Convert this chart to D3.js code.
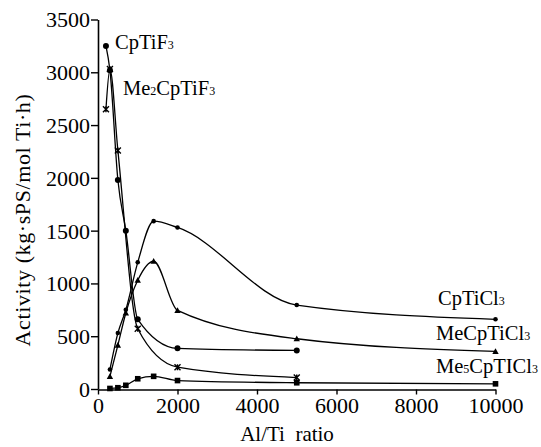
<!DOCTYPE html>
<html><head><meta charset="utf-8">
<script src="https://cdn.jsdelivr.net/npm/d3@7/dist/d3.min.js"></script>
<style>
html,body{margin:0;padding:0;background:#fff;}
svg{display:block;}
text{font-family:"Liberation Serif","Times New Roman",serif;fill:#000;}
</style></head>
<body><svg id="c" width="541" height="447"></svg>
<script>
// ---- data ----
const xTicks = [0, 2000, 4000, 6000, 8000, 10000];
const yTicks = [0, 500, 1000, 1500, 2000, 2500, 3000, 3500];

const xCpTiF3 = [200, 300, 500, 700, 1000, 2000, 5000];
const yCpTiF3 = [3250, 3020, 1980, 1500, 660, 385, 365];

const xMe2CpTiF3 = [200, 300, 500, 1000, 2000, 5000];
const yMe2CpTiF3 = [2650, 3030, 2260, 570, 207, 108];

const xCpTiCl3 = [300, 500, 700, 1000, 1400, 2000, 5000, 10000];
const yCpTiCl3 = [185, 530, 750, 1200, 1590, 1530, 795, 660];

const xMeCpTiCl3 = [300, 500, 700, 1000, 1400, 2000, 5000, 10000];
const yMeCpTiCl3 = [120, 415, 720, 1030, 1210, 745, 476, 356];

const xMe5CpTiCl3 = [300, 500, 700, 1000, 1400, 2000, 5000, 10000];
const yMe5CpTiCl3 = [5, 12, 35, 97, 120, 80, 59, 49];

const series = [
  {name: "CpTiF3", xs: xCpTiF3, ys: yCpTiF3, marker: "circle", r: 3},
  {name: "Me2CpTiF3", xs: xMe2CpTiF3, ys: yMe2CpTiF3, marker: "star", r: 3},
  {name: "CpTiCl3", xs: xCpTiCl3, ys: yCpTiCl3, marker: "circle", r: 2.3},
  {name: "MeCpTiCl3", xs: xMeCpTiCl3, ys: yMeCpTiCl3, marker: "triangle", r: 3.2},
  {name: "Me5CpTICl3", xs: xMe5CpTiCl3, ys: yMe5CpTiCl3, marker: "square", r: 2.8}
];

const labels = [
  {parts: [["CpTiF", 0], ["3", 1]], x: 115, y: 49},
  {parts: [["Me", 0], ["2", 1], ["CpTiF", 0], ["3", 1]], x: 123, y: 95},
  {parts: [["CpTiCl", 0], ["3", 1]], x: 438, y: 305},
  {parts: [["MeCpTiCl", 0], ["3", 1]], x: 436, y: 340},
  {parts: [["Me", 0], ["5", 1], ["CpTICl", 0], ["3", 1]], x: 436, y: 373}
];

// ---- drawing ----
const svg = d3.select("#c");
const x = d3.scaleLinear().domain([0, 10000]).range([98, 495.5]);
const y = d3.scaleLinear().domain([0, 3500]).range([389, 19.5]);

const tickFs = 22, labelFs = 20.5;

// axes
const xAxis = svg.append("g").attr("transform", "translate(0,389.5)")
  .call(d3.axisBottom(x).tickValues(xTicks).tickSize(5).tickSizeOuter(0).tickPadding(3).tickFormat(d3.format("d")));
const yAxis = svg.append("g").attr("transform", "translate(98,0)")
  .call(d3.axisLeft(y).tickValues(yTicks).tickSize(7).tickSizeOuter(0).tickPadding(1).tickFormat(d3.format("d")));
[xAxis, yAxis].forEach(g => {
  g.selectAll("path.domain").attr("stroke", "#000").attr("stroke-width", 1.6);
  g.selectAll(".tick line").attr("stroke", "#000").attr("stroke-width", 1.4);
  g.selectAll(".tick text").attr("font-family", "Liberation Serif, serif").attr("font-size", tickFs).attr("fill", "#000");
});
yAxis.selectAll(".tick text").attr("dy", "0.34em");

// axis titles
svg.append("text").attr("x", 287).attr("y", 441).attr("text-anchor", "middle")
  .attr("font-size", 21).attr("xml:space", "preserve").text("Al/Ti  ratio");
svg.append("text").attr("transform", "translate(30,220) rotate(-90)").attr("text-anchor", "middle")
  .attr("font-size", 22).attr("letter-spacing", 0.6).text("Activity (kg\u00b7sPS/mol Ti\u00b7h)");

// lines
const line = d3.line().x(d => x(d[0])).y(d => y(d[1])).curve(d3.curveMonotoneX);
series.forEach(s => {
  const pts = s.xs.map((v, i) => [v, s.ys[i]]);
  svg.append("path").datum(pts).attr("d", line)
    .attr("fill", "none").attr("stroke", "#000").attr("stroke-width", 1.3);
  const g = svg.append("g");
  pts.forEach(p => {
    const cx = x(p[0]), cy = y(p[1]), r = s.r;
    if (s.marker === "circle") {
      g.append("circle").attr("cx", cx).attr("cy", cy).attr("r", r).attr("fill", "#000");
    } else if (s.marker === "square") {
      g.append("rect").attr("x", cx - r).attr("y", cy - r).attr("width", 2 * r).attr("height", 2 * r).attr("fill", "#000");
    } else if (s.marker === "triangle") {
      g.append("path").attr("d", `M${cx},${cy - r}L${cx + r},${cy + r * 0.8}L${cx - r},${cy + r * 0.8}Z`).attr("fill", "#000");
    } else if (s.marker === "star") {
      g.append("path").attr("d", `M${cx - r},${cy - r}L${cx + r},${cy + r}M${cx + r},${cy - r}L${cx - r},${cy + r}M${cx},${cy - r}L${cx},${cy + r}`)
        .attr("stroke", "#000").attr("stroke-width", 1.4).attr("fill", "none");
    }
  });
});

// series labels
labels.forEach(l => {
  const t = svg.append("text").attr("x", l.x).attr("y", l.y).attr("font-size", labelFs);
  l.parts.forEach(p => {
    t.append("tspan").attr("font-size", p[1] ? 12 : labelFs).text(p[0]);
  });
});
</script></body></html>
